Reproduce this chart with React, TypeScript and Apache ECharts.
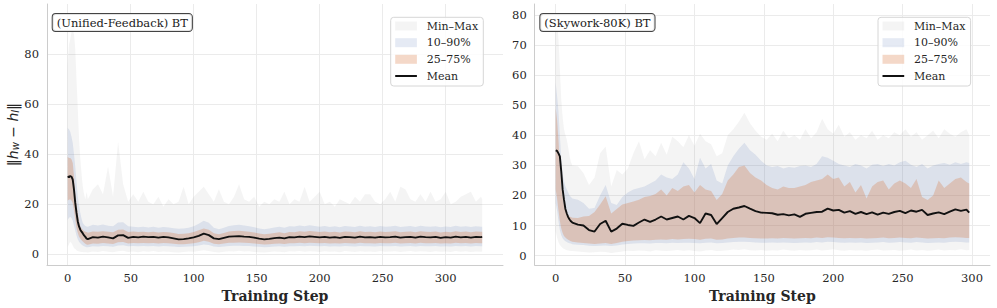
import React, { useEffect, useRef } from 'react';
import * as echarts from 'echarts';

// ---------------- data ----------------
const xTicks = [0, 50, 100, 150, 200, 250, 300];
const leftYTicks = [0, 20, 40, 60, 80];
const rightYTicks = [0, 10, 20, 30, 40, 50, 60, 70, 80];

const leftTitle = '(Unified-Feedback) BT';
const rightTitle = '(Skywork-80K) BT';
const legendLabels = ['Min–Max', '10–90%', '25–75%', 'Mean'];

const leftSteps = [
  0, 1, 2, 3, 4, 5, 6, 7, 8, 9, 10, 11, 12, 13, 14, 15,
  16, 20, 24, 28, 32, 36, 40, 44, 48, 52,
  56, 60, 64, 68, 72, 76, 80, 84, 88, 92,
  96, 100, 104, 108, 112, 116, 120, 124, 128, 132,
  136, 140, 144, 148, 152, 156, 160, 164, 168, 172,
  176, 180, 184, 188, 192, 196, 200, 204, 208, 212,
  216, 220, 224, 228, 232, 236, 240, 244, 248, 252,
  256, 260, 264, 268, 272, 276, 280, 284, 288, 292,
  296, 300, 304, 308, 312, 316, 320, 324, 328,
  329,
];
const leftMean = [
  31.2, 30.8, 31.3, 31.0, 29.8, 25.8, 20.5, 16.5, 13.1, 11.1, 9.8, 9.0, 8.3, 7.5, 6.9, 6.2,
  6.0, 6.8, 6.6, 7.0, 6.7, 6.3, 7.5, 7.6, 6.5, 6.9,
  6.7, 7.0, 6.8, 6.9, 6.6, 6.9, 6.7, 6.3, 5.9, 6.0,
  6.3, 6.7, 7.3, 8.2, 7.6, 6.3, 6.0, 6.5, 7.0, 7.1,
  7.2, 7.0, 6.9, 6.6, 6.2, 5.9, 6.1, 6.4, 6.6, 6.3,
  6.8, 6.7, 7.0, 6.8, 7.1, 6.9, 6.7, 6.9, 6.6, 6.8,
  6.5, 6.9, 6.8, 6.6, 7.0, 6.7, 6.8, 6.6, 6.9, 6.7,
  6.8, 7.0, 6.6, 6.8, 6.9, 6.6, 7.0, 6.8, 6.7, 6.9,
  6.5, 6.8, 6.6, 7.0, 6.7, 6.9, 6.6, 6.9, 6.8,
  6.9,
];
const leftP75 = [
  39, 38.5, 38.5, 38, 36.5, 31, 24.5, 20, 16.5, 13.5, 11.2, 10.4, 9.8, 9.3, 9.0, 8.9,
  8.6, 9.1, 9.0, 9.2, 9.0, 8.8, 9.8, 9.9, 8.9, 9.1,
  8.9, 9.0, 8.8, 9.0, 8.7, 8.9, 8.8, 8.5, 8.1, 8.2,
  8.4, 8.9, 9.6, 10.3, 9.8, 8.4, 8.0, 8.5, 9.1, 9.3,
  9.4, 9.2, 9.0, 8.7, 8.3, 8.0, 8.2, 8.5, 8.8, 8.4,
  8.9, 8.8, 9.2, 9.0, 9.3, 9.1, 8.9, 9.1, 8.8, 9.0,
  8.7, 9.1, 9.0, 8.8, 9.2, 8.9, 9.0, 8.8, 9.1, 8.9,
  9.0, 9.2, 8.8, 9.0, 9.1, 8.8, 9.2, 9.0, 8.9, 9.1,
  8.7, 9.0, 8.8, 9.2, 8.9, 9.1, 8.8, 9.1, 9.0,
  9.0,
];
const leftP25 = [
  21.5, 21.8, 22.0, 21.5, 20.5, 17.5, 14.0, 10.5, 8.5, 7.0, 6.3, 5.6, 5.1, 4.6, 4.2, 3.9,
  3.8, 4.3, 4.2, 4.5, 4.3, 4.1, 4.8, 4.9, 4.3, 4.5,
  4.4, 4.5, 4.4, 4.5, 4.3, 4.5, 4.4, 4.2, 4.0, 4.0,
  4.2, 4.4, 4.8, 5.4, 5.0, 4.2, 4.0, 4.3, 4.6, 4.6,
  4.7, 4.6, 4.5, 4.3, 4.1, 3.9, 4.0, 4.2, 4.3, 4.1,
  4.4, 4.4, 4.6, 4.4, 4.6, 4.5, 4.4, 4.5, 4.3, 4.4,
  4.3, 4.5, 4.4, 4.3, 4.6, 4.4, 4.4, 4.3, 4.5, 4.4,
  4.4, 4.6, 4.3, 4.4, 4.5, 4.3, 4.6, 4.4, 4.4, 4.5,
  4.3, 4.4, 4.3, 4.6, 4.4, 4.5, 4.3, 4.5, 4.4,
  4.4,
];
const leftP90 = [
  50.5, 50.0, 49.0, 47.0, 44.5, 40.0, 35.0, 29.0, 23.0, 19.5, 16.5, 14.2, 12.5, 11.8, 11.3, 11.1,
  11.0, 11.8, 11.5, 11.9, 11.4, 11.2, 12.7, 12.8, 11.2, 11.0,
  10.8, 11.0, 10.7, 11.0, 10.6, 10.9, 10.7, 10.4, 10.2, 10.3,
  10.6, 11.2, 12.2, 13.4, 12.6, 10.6, 10.0, 10.6, 11.3, 11.6,
  11.8, 11.5, 11.2, 10.8, 10.3, 10.0, 10.3, 10.7, 11.0, 10.6,
  11.2, 11.1, 11.5, 11.2, 11.6, 11.3, 11.0, 11.3, 10.9, 11.2,
  10.8, 11.3, 11.1, 10.9, 11.4, 11.0, 11.2, 10.9, 11.3, 11.0,
  11.1, 11.4, 10.9, 11.1, 11.3, 10.9, 11.4, 11.1, 11.0, 11.2,
  10.8, 11.1, 10.9, 11.4, 11.0, 11.2, 10.9, 11.2, 11.0,
  11.0,
];
const leftP10 = [
  13.8, 14.5, 15.0, 14.5, 13.5, 11.5, 9.5, 7.5, 6.0, 5.0, 4.4, 3.9, 3.5, 3.2, 3.0, 2.8,
  2.8, 3.2, 3.1, 3.3, 3.2, 3.0, 3.5, 3.6, 3.2, 3.3,
  3.2, 3.3, 3.2, 3.3, 3.1, 3.3, 3.2, 3.1, 2.9, 3.0,
  3.1, 3.2, 3.5, 3.9, 3.7, 3.1, 2.9, 3.1, 3.3, 3.4,
  3.4, 3.3, 3.3, 3.1, 3.0, 2.8, 2.9, 3.1, 3.2, 3.0,
  3.2, 3.2, 3.3, 3.2, 3.4, 3.3, 3.2, 3.3, 3.1, 3.2,
  3.1, 3.3, 3.2, 3.1, 3.3, 3.2, 3.2, 3.1, 3.3, 3.2,
  3.2, 3.3, 3.1, 3.2, 3.3, 3.1, 3.3, 3.2, 3.2, 3.3,
  3.1, 3.2, 3.1, 3.3, 3.2, 3.3, 3.1, 3.3, 3.2,
  3.2,
];
const leftMin = [
  3.0, 4.0, 5.0, 4.5, 3.5, 2.5, 2.0, 1.5, 1.2, 1.0, 0.9, 0.8, 0.8, 0.7, 0.7, 0.7,
  0.6, 1.0, 0.8, 1.2, 0.9, 0.7, 1.1, 1.3, 0.8, 1.0,
  0.7, 1.1, 0.9, 1.2, 0.8, 1.0, 0.9, 0.7, 0.6, 0.8,
  1.0, 0.9, 1.2, 1.5, 1.2, 0.8, 0.6, 0.9, 1.1, 1.0,
  1.3, 1.0, 1.1, 0.8, 0.7, 0.6, 0.8, 1.0, 0.9, 0.7,
  1.1, 1.0, 1.2, 0.9, 1.1, 1.0, 0.8, 1.1, 0.9, 1.0,
  0.7, 1.2, 1.0, 0.8, 1.1, 0.9, 1.0, 0.8, 1.2, 0.9,
  1.0, 1.1, 0.8, 1.0, 1.2, 0.9, 1.1, 1.0, 0.8, 1.1,
  0.9, 1.0, 0.8, 1.2, 0.9, 1.1, 0.8, 1.0, 0.9,
  1.0,
];
const leftMax = [
  76, 84, 86, 89, 90, 88, 82, 70, 58, 46, 38, 32, 27, 24, 22, 25,
  22, 26, 28, 24, 35, 23, 45, 28, 21, 24,
  21, 25, 21, 20, 23, 19, 22, 20, 21, 27,
  20, 23, 25, 27, 24, 21, 26, 21, 20, 23,
  28, 22, 21, 23, 19, 21, 20, 22, 21, 25,
  20, 22, 21, 27, 21, 23, 25, 20, 21, 19,
  22, 21, 20, 23, 21, 24, 24, 21, 20, 22,
  25, 21, 27, 26, 22, 21, 24, 21, 25, 21,
  22, 25, 20, 21, 23, 24, 25, 21, 23,
  22,
];

const rightSteps = [
  0, 1, 2, 3, 4, 5, 6, 7, 8, 9, 10, 11, 12,
  16, 20, 24, 28, 32, 36, 40, 44, 48, 52,
  56, 60, 64, 68, 72, 76, 80, 84, 88, 92,
  96, 100, 104, 108, 112, 116, 120, 124, 128, 132,
  136, 140, 144, 148, 152, 156, 160, 164, 168, 172,
  176, 180, 184, 188, 192, 196, 200, 204, 208, 212,
  216, 220, 224, 228, 232, 236, 240, 244, 248, 252,
  256, 260, 264, 268, 272, 276, 280, 284, 288, 292,
  296, 298,
];
const rightMean = [
  35.0, 34.8, 34.0, 33.0, 28.0, 22.0, 18.5, 15.5, 14.0, 12.8, 12.0, 11.4, 11.0,
  10.3, 10.0, 8.5, 8.0, 10.5, 11.6, 8.0, 9.0, 10.6, 10.2,
  9.9, 11.0, 12.0, 11.2, 12.0, 13.0, 12.0, 12.5, 13.0, 12.0,
  13.2, 12.5, 10.8, 14.0, 13.5, 10.5, 12.5, 14.5, 15.6, 16.0,
  16.5, 15.6, 14.8, 14.3, 14.2, 14.1, 13.6, 13.8, 13.4, 13.7,
  12.9, 13.9, 14.2, 14.5, 14.6, 15.6, 15.0, 15.2, 14.3, 14.8,
  13.9, 14.5, 13.8, 14.4, 13.6, 14.3, 13.9, 14.5, 14.9, 14.1,
  15.0, 14.6, 15.2, 13.5, 14.0, 14.4, 13.8, 14.6, 15.4, 14.9,
  15.3, 14.3,
];
const rightP75 = [
  49.0, 45.0, 38.5, 30.0, 23.0, 19.5, 16.5, 15.2, 14.0, 13.5, 13.0, 12.8, 12.6,
  12.5, 13.0, 13.2, 14.5, 17.0, 19.7, 14.0, 15.5, 17.0, 17.5,
  18.0, 18.6, 19.5, 19.8, 20.5, 22.0, 20.0, 22.5, 21.5, 23.0,
  23.5, 21.0, 23.5, 22.0, 21.5, 18.5, 20.5, 25.0, 27.0, 29.5,
  30.0, 27.5, 26.0, 25.0, 23.5, 22.5, 22.0, 23.0, 22.5, 22.5,
  23.0, 23.5, 24.5, 25.0, 25.5, 27.0, 25.5, 26.0, 23.0, 24.5,
  21.0, 23.5, 19.0, 23.0, 24.5, 25.0, 22.0, 24.0, 25.0, 24.0,
  22.5, 25.5, 19.5, 18.5, 20.0, 25.0, 22.5, 24.0, 25.5, 26.0,
  24.5, 24.0,
];
const rightP25 = [
  22.0, 19.0, 15.0, 11.5, 9.0, 7.5, 6.5, 6.0, 5.6, 5.3, 5.0, 4.8, 4.6,
  4.4, 4.2, 4.0, 3.9, 4.0, 4.2, 3.9, 4.2, 4.6, 4.9,
  5.0, 5.1, 5.2, 5.1, 5.3, 5.4, 5.3, 5.5, 5.4, 5.5,
  5.6, 5.5, 5.3, 5.6, 5.7, 5.3, 5.4, 5.7, 5.9, 6.0,
  6.0, 5.9, 5.8, 5.7, 5.7, 5.8, 5.7, 5.9, 5.8, 5.7,
  5.8, 5.9, 5.8, 6.0, 5.9, 6.1, 6.0, 5.9, 5.8, 5.9,
  5.8, 5.9, 5.7, 5.8, 5.9, 6.0, 5.8, 5.9, 6.0, 5.9,
  5.8, 6.0, 5.9, 5.7, 5.8, 5.9, 5.8, 6.0, 6.1, 6.0,
  5.9, 5.9,
];
const rightP90 = [
  57.5, 53.0, 48.0, 40.0, 32.0, 27.0, 24.7, 23.0, 22.0, 21.0, 20.0, 19.5, 19.0,
  18.6, 17.5, 15.6, 15.8, 20.0, 23.5, 17.5, 16.8, 19.5, 21.0,
  22.0, 22.5, 23.0, 24.0, 25.0, 27.0, 26.0, 25.5, 27.0, 31.0,
  29.0, 25.5, 32.5, 29.0, 30.5, 25.0, 24.0, 30.0, 33.0, 35.5,
  37.5, 35.0, 33.5, 31.5, 30.0, 29.5, 29.8, 29.0, 29.5, 29.2,
  29.8, 30.0, 29.5, 30.5, 33.0, 32.5, 31.5, 30.5, 30.0, 29.5,
  30.5, 30.0, 29.0, 30.2, 30.5, 29.8, 30.5, 30.0, 31.0, 31.5,
  30.2, 29.5, 30.5, 29.0, 30.0, 30.5, 30.8, 30.2, 31.0, 30.5,
  31.0, 30.8,
];
const rightP10 = [
  17.5, 15.0, 11.5, 8.5, 6.8, 5.8, 5.2, 4.8, 4.5, 4.3, 4.1, 4.0, 3.8,
  3.6, 3.5, 3.3, 3.2, 3.3, 3.4, 3.2, 3.4, 3.7, 3.9,
  4.0, 4.1, 4.1, 4.0, 4.2, 4.2, 4.1, 4.3, 4.2, 4.3,
  4.3, 4.2, 4.1, 4.3, 4.4, 4.1, 4.2, 4.4, 4.5, 4.6,
  4.6, 4.5, 4.4, 4.3, 4.3, 4.4, 4.3, 4.4, 4.3, 4.2,
  4.3, 4.4, 4.3, 4.5, 4.4, 4.6, 4.5, 4.4, 4.3, 4.4,
  4.3, 4.4, 4.2, 4.3, 4.4, 4.5, 4.3, 4.4, 4.5, 4.4,
  4.3, 4.5, 4.4, 4.2, 4.3, 4.4, 4.3, 4.5, 4.6, 4.5,
  4.4, 4.4,
];
const rightMin = [
  8.0, 6.0, 4.5, 3.5, 3.0, 2.5, 2.2, 2.0, 1.8, 1.7, 1.6, 1.5, 1.5,
  1.4, 1.2, 1.0, 1.1, 1.3, 1.2, 0.9, 1.1, 1.4, 1.6,
  1.5, 1.7, 1.6, 1.4, 1.8, 1.6, 1.5, 1.7, 1.9, 1.6,
  1.8, 1.5, 1.4, 1.7, 1.9, 1.5, 1.6, 1.8, 2.0, 1.9,
  2.1, 1.8, 1.7, 1.9, 1.6, 1.8, 1.7, 2.0, 1.8, 1.6,
  1.9, 1.7, 1.8, 2.0, 1.7, 1.9, 2.1, 1.8, 1.6, 1.9,
  1.7, 1.8, 1.6, 1.9, 2.0, 1.7, 1.8, 1.9, 1.6, 1.8,
  2.0, 1.7, 1.9, 1.6, 1.8, 2.0, 1.7, 1.9, 1.8, 2.1,
  1.8, 1.9,
];
const rightMax = [
  80.0, 78.0, 72.0, 62.0, 52.0, 46.0, 42.0, 40.0, 38.5, 36.0, 33.0, 31.0, 30.0,
  29.7, 27.5, 23.5, 26.0, 34.0, 36.3, 23.0, 28.5, 27.0, 29.0,
  34.0, 38.0, 32.0, 35.0, 33.0, 37.5, 33.5, 39.5, 38.0, 36.0,
  40.0, 36.5, 40.5, 38.0, 37.0, 33.0, 34.0, 40.0, 42.0, 44.5,
  47.5, 44.0, 41.5, 39.5, 38.5, 40.5, 38.0, 41.5, 39.0, 40.0,
  38.5, 42.0, 39.0, 41.0, 45.5, 42.0, 40.5, 43.5, 39.5, 41.0,
  38.5, 40.0, 39.0, 41.5, 38.5, 40.0, 39.0, 41.0, 40.0, 42.0,
  39.5, 41.0, 38.5, 40.0, 41.5, 39.0, 42.0, 40.5, 39.5, 41.0,
  42.0, 40.0,
];

// ---------------- styles ----------------
const FONT = "'DejaVu Serif', serif";
const TXT = '#262626';
const C_MINMAX = 'rgba(128,128,128,0.09)';
const C_1090 = 'rgba(100,130,190,0.17)';
const C_2575 = 'rgba(214,110,50,0.27)';
const C_MEAN = '#111111';
const GRID_C = '#ebebeb';
const SPINE_C = '#cccccc';

function band(gi: number, steps: number[], lo: number[], hi: number[], color: string, z: number) {
  return {
    type: 'custom',
    xAxisIndex: gi,
    yAxisIndex: gi,
    z,
    silent: true,
    data: steps.map((s, i) => [s, lo[i], hi[i]]),
    encode: { x: 0, y: [1, 2] },
    renderItem: (params: any, api: any) => {
      if (params.dataIndex !== 0) return null;
      const pts: number[][] = [];
      for (let i = 0; i < steps.length; i++) pts.push(api.coord([steps[i], hi[i]]));
      for (let i = steps.length - 1; i >= 0; i--) pts.push(api.coord([steps[i], lo[i]]));
      return { type: 'polygon', shape: { points: pts }, style: { fill: color } };
    },
  };
}

function meanLine(gi: number, steps: number[], vals: number[]) {
  return {
    type: 'line',
    xAxisIndex: gi,
    yAxisIndex: gi,
    z: 5,
    silent: true,
    showSymbol: false,
    symbol: 'none',
    data: steps.map((s, i) => [s, vals[i]]),
    lineStyle: { color: C_MEAN, width: 1.9 },
  };
}

function xAxisCfg(gi: number, min: number, max: number) {
  return {
    type: 'value',
    gridIndex: gi,
    min,
    max,
    axisLine: { show: true, onZero: false, lineStyle: { color: SPINE_C, width: 1 } },
    axisTick: { show: false, customValues: xTicks },
    axisLabel: { customValues: xTicks, fontFamily: FONT, fontSize: 11.5, color: TXT, margin: 7 },
    splitLine: { show: true, lineStyle: { color: GRID_C, width: 1 } },
    name: 'Training Step',
    nameLocation: 'middle',
    nameGap: 12,
    nameTextStyle: { fontFamily: FONT, fontWeight: 'bold', fontSize: 14, color: TXT },
  };
}

function yAxisCfg(gi: number, min: number, max: number, ticks: number[], withName: boolean) {
  const cfg: any = {
    type: 'value',
    gridIndex: gi,
    min,
    max,
    axisLine: { show: true, onZero: false, lineStyle: { color: SPINE_C, width: 1 } },
    axisTick: { show: false, customValues: ticks },
    axisLabel: { customValues: ticks, fontFamily: FONT, fontSize: 11.5, color: TXT, margin: 8 },
    splitLine: { show: true, lineStyle: { color: GRID_C, width: 1 } },
  };
  if (withName) {
    cfg.name = '‖{it|h}{sub|w} − {it|h}{sub|l}‖';
    cfg.nameLocation = 'middle';
    cfg.nameGap = 27;
    cfg.nameTextStyle = {
      fontFamily: "'DejaVu Sans', sans-serif",
      fontSize: 14,
      color: TXT,
      rich: {
        it: { fontFamily: "'DejaVu Sans', sans-serif", fontStyle: 'italic', fontSize: 14, color: TXT },
        sub: { fontFamily: "'DejaVu Sans', sans-serif", fontStyle: 'italic', fontSize: 10, color: TXT, padding: [5, 0, 0, 0] },
      },
    };
  }
  return cfg;
}

function legendGraphic(boxX: number) {
  const boxY = 17.3;
  const rows = [26, 42.7, 59.3, 76];
  const patchX = boxX + 4.5;
  const patchW = 21.7;
  const textX = boxX + 36;
  const colors = [C_MINMAX, C_1090, C_2575];
  const els: any[] = [
    {
      type: 'rect',
      z: 20,
      shape: { x: boxX, y: boxY, width: 92.6, height: 68.7, r: 3 },
      style: { fill: 'rgba(255,255,255,0.85)', stroke: '#d6d6d6', lineWidth: 1 },
    },
  ];
  colors.forEach((c, i) => {
    els.push({
      type: 'rect',
      z: 21,
      shape: { x: patchX, y: rows[i] - 4.5, width: patchW, height: 9 },
      style: { fill: c },
    });
  });
  els.push({
    type: 'line',
    z: 21,
    shape: { x1: patchX, y1: rows[3], x2: patchX + patchW, y2: rows[3] },
    style: { stroke: C_MEAN, lineWidth: 2 },
  });
  legendLabels.forEach((t, i) => {
    els.push({
      type: 'text',
      z: 21,
      x: textX,
      y: rows[i],
      style: { text: t, fontFamily: FONT, fontSize: 11, fill: TXT, verticalAlign: 'middle', align: 'left' },
    });
  });
  return els;
}

function titleGraphic(text: string, left: number) {
  return [
    {
      type: 'text',
      z: 21,
      x: left,
      y: 14,
      style: {
        text,
        fontFamily: FONT,
        fontSize: 11.5,
        lineHeight: 11,
        fill: '#1a1a1a',
        align: 'left',
        verticalAlign: 'top',
        padding: [3, 4, 3, 4],
        backgroundColor: 'rgba(255,255,255,0.85)',
        borderColor: '#444444',
        borderWidth: 1,
        borderRadius: 3,
      },
    },
  ];
}

export default function App() {
  const ref = useRef<HTMLDivElement>(null);
  useEffect(() => {
    const chart = echarts.init(ref.current as HTMLDivElement, null, { renderer: 'svg' });
    const option: any = {
      animation: false,
      backgroundColor: '#ffffff',
      grid: [
        { left: 47, top: 4, width: 456, height: 261.5 },
        { left: 534.7, top: 4, width: 455.3, height: 261.5 },
      ],
      xAxis: [xAxisCfg(0, -16.43, 345.5), xAxisCfg(1, -15.13, 312.97)],
      yAxis: [yAxisCfg(0, -4.4, 100.2, leftYTicks, true), yAxisCfg(1, -3.15, 83.65, rightYTicks, false)],
      series: [
        band(0, leftSteps, leftMin, leftMax, C_MINMAX, 1),
        band(0, leftSteps, leftP10, leftP90, C_1090, 2),
        band(0, leftSteps, leftP25, leftP75, C_2575, 3),
        meanLine(0, leftSteps, leftMean),
        band(1, rightSteps, rightMin, rightMax, C_MINMAX, 1),
        band(1, rightSteps, rightP10, rightP90, C_1090, 2),
        band(1, rightSteps, rightP25, rightP75, C_2575, 3),
        meanLine(1, rightSteps, rightMean),
      ],
      graphic: [
        ...titleGraphic(leftTitle, 52.7),
        ...titleGraphic(rightTitle, 540.3),
        ...legendGraphic(390.7),
        ...legendGraphic(878),
      ],
    };
    chart.setOption(option);
    return () => chart.dispose();
  }, []);
  return (
    <div
      ref={ref}
      style={{ position: 'fixed', left: 0, top: 0, width: 997, height: 308, background: '#fff' }}
    />
  );
}
